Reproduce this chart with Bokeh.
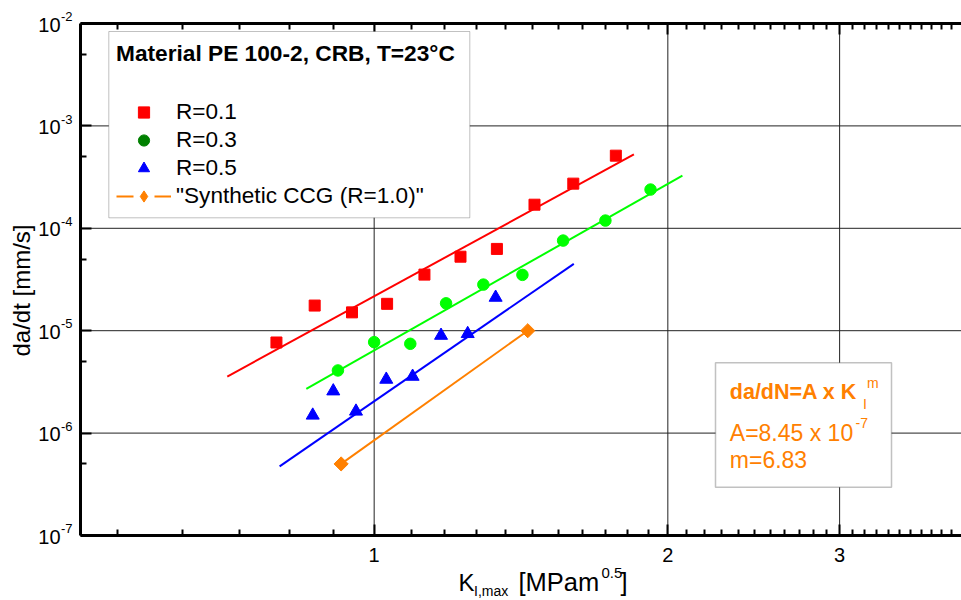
import math
from bokeh.plotting import figure
from bokeh.models import (FixedTicker, LogAxis, Label, Legend, LegendItem, BoxAnnotation,
                          CustomJSTickFormatter, PrintfTickFormatter)
from bokeh.embed import file_html
from bokeh.resources import INLINE

# ---------------- data ----------------
k_r01 = [0.794, 0.869, 0.949, 1.031, 1.126, 1.226, 1.336, 1.460, 1.600, 1.769]
v_r01 = [7.67e-6, 1.76e-5, 1.51e-5, 1.83e-5, 3.53e-5, 5.28e-5, 6.29e-5, 1.70e-4, 2.73e-4, 5.12e-4]
k_r03 = [0.918, 1.000, 1.089, 1.185, 1.294, 1.419, 1.562, 1.726, 1.920]
v_r03 = [4.09e-6, 7.73e-6, 7.45e-6, 1.85e-5, 2.82e-5, 3.51e-5, 7.59e-5, 1.19e-4, 2.39e-4]
k_r05 = [0.865, 0.908, 0.958, 1.029, 1.095, 1.171, 1.247, 1.332]
v_r05 = [1.49e-6, 2.57e-6, 1.63e-6, 3.34e-6, 3.57e-6, 8.97e-6, 9.33e-6, 2.11e-5]

fit_k_r01 = [0.707, 1.846]
fit_v_r01 = [3.57e-6, 5.27e-4]
fit_k_r03 = [0.852, 2.070]
fit_v_r03 = [2.71e-6, 3.27e-4]
fit_k_r05 = [0.800, 1.602]
fit_v_r05 = [4.73e-7, 4.50e-5]

k_syn = [0.925, 1.437]
v_syn = [5.0e-7, 1.0e-5]

x_lim = (0.5, 4.0)
y_lim = (1e-7, 1e-2)
x_major = [1, 2, 3, 4]
y_major = [1e-7, 1e-6, 1e-5, 1e-4, 1e-3, 1e-2]
y_exponents = ["-7", "-6", "-5", "-4", "-3", "-2"]
y_minor = [5e-7, 5e-6, 5e-5, 5e-4, 5e-3]
x_minor = [k / 11 for k in range(6, 11)] + [m + k / 11 for m in (1, 2, 3) for k in range(1, 11)]

legend_labels = ["R=0.1", "R=0.3", "R=0.5", '"Synthetic CCG (R=1.0)"']
legend_title = "Material PE 100-2, CRB, T=23°C"

FONT = "Liberation Sans"
RED, LIME, GREEN, BLUE, ORANGE = "#ff0000", "#00ff00", "#008000", "#0000ff", "#ff8000"

# ---------------- layout helpers (canvas px -> data) ----------------
W, H = 961, 600
AL, AR, AT, AB = 80, 961, 23, 535          # axes box in canvas px
XDEC = (AR - AL) / math.log10(x_lim[1] / x_lim[0])
YDEC = (AB - AT) / math.log10(y_lim[1] / y_lim[0])
BASE_FIX = 0.35                             # baseline correction (fraction of font size)


def kx(px):
    return x_lim[0] * 10 ** ((px - AL) / XDEC)


def vy(py):
    return y_lim[0] * 10 ** ((AB - py) / YDEC)


p = figure(width=W, height=H, x_axis_type="log", y_axis_type="log",
           x_range=(kx(0), kx(W)), y_range=(vy(H), vy(0)),
           output_backend="svg", toolbar_location=None,
           min_border=0, min_border_left=0, min_border_right=0,
           min_border_top=0, min_border_bottom=0)
p.outline_line_color = None
p.background_fill_color = "white"
p.border_fill_color = "white"
p.xgrid.visible = False
p.ygrid.visible = False

# axes placed at the edges of the axes box
xt = FixedTicker(ticks=x_major, minor_ticks=x_minor)
yt = FixedTicker(ticks=y_major, minor_ticks=y_minor)
for ax in p.xaxis:
    ax.ticker = xt
    ax.formatter = PrintfTickFormatter(format="%d")
    ax.major_label_text_font = FONT
    ax.major_label_text_font_size = "20px"
    ax.major_label_text_color = "black"
    ax.major_label_standoff = 12
    ax.fixed_location = y_lim[0]
    ax.bounds = x_lim
for ax in p.yaxis:
    ax.ticker = yt
    ax.formatter = CustomJSTickFormatter(code="return ''")
    ax.fixed_location = x_lim[0]
    ax.bounds = y_lim

top = LogAxis(ticker=FixedTicker(ticks=x_major, minor_ticks=x_minor),
              formatter=CustomJSTickFormatter(code="return ''"),
              fixed_location=y_lim[1], bounds=x_lim)
p.add_layout(top, "above")

for ax in list(p.xaxis) + list(p.yaxis) + [top]:
    ax.axis_line_width = 3
    ax.axis_line_color = "black"
    ax.major_tick_in = 11
    ax.major_tick_out = 0
    ax.minor_tick_in = 6
    ax.minor_tick_out = 0
    ax.major_tick_line_width = 2
    ax.minor_tick_line_width = 2

# grid lines, limited to the axes box
p.segment(x0=x_major, y0=[y_lim[0]] * len(x_major), x1=x_major, y1=[y_lim[1]] * len(x_major),
          line_color="#222222", line_width=1)
p.segment(x0=[x_lim[0]] * len(y_major), y0=y_major, x1=[x_lim[1]] * len(y_major), y1=y_major,
          line_color="#222222", line_width=1)

# data glyphs
p.line(fit_k_r01, fit_v_r01, line_color=RED, line_width=2)
p.scatter(k_r01, v_r01, marker="square", size=11, color=RED)
p.line(fit_k_r03, fit_v_r03, line_color=LIME, line_width=2)
p.scatter(k_r03, v_r03, marker="circle", size=11.5, color=LIME)
p.line(fit_k_r05, fit_v_r05, line_color=BLUE, line_width=2)
p.scatter(k_r05, v_r05, marker="triangle", size=13, color=BLUE)
p.line(k_syn, v_syn, line_color=ORANGE, line_width=2)
p.scatter(k_syn, v_syn, marker="square", angle=math.pi / 4, size=10, color=ORANGE)

# legend-only renderers (hidden in the plot)
lg1 = p.scatter(k_r01, v_r01, marker="square", color=RED, visible=False)
lg2 = p.scatter(k_r03, v_r03, marker="circle", color=GREEN, visible=False)
lg3 = p.scatter(k_r05, v_r05, marker="triangle", color=BLUE, visible=False)
lg4a = p.line(k_syn, v_syn, line_color=ORANGE, line_width=2, line_dash="17 21", visible=False)
lg4b = p.scatter(k_syn, v_syn, marker="diamond", color=ORANGE, visible=False)

# legend frame
p.add_layout(BoxAnnotation(left=kx(108.3), right=kx(469.3), top=vy(31), bottom=vy(217.3),
                           fill_color="white", fill_alpha=1.0,
                           line_color="#333333", line_width=1))

legend = Legend(
    items=[LegendItem(label=legend_labels[0], renderers=[lg1]),
           LegendItem(label=legend_labels[1], renderers=[lg2]),
           LegendItem(label=legend_labels[2], renderers=[lg3]),
           LegendItem(label=legend_labels[3], renderers=[lg4a, lg4b])],
    location=(116, 390), title=legend_title,
    title_text_font=FONT, title_text_font_size="22.7px", title_text_font_style="bold",
    title_text_color="black", title_standoff=31,
    label_text_font=FONT, label_text_font_size="22.6px", label_text_color="black",
    label_height=28, glyph_height=28, glyph_width=55, label_standoff=5,
    spacing=0, padding=9, margin=0,
    border_line_color=None, background_fill_alpha=0.0,
)
p.add_layout(legend)


def lab(px, py, text, size, color="black", style="normal", align="left", angle=0.0):
    """Place a text with its baseline at canvas pixel (px, py)."""
    fs = float(size.replace("px", ""))
    if angle:
        px = px - BASE_FIX * fs
    else:
        py = py - BASE_FIX * fs
    p.add_layout(Label(x=kx(px), y=vy(py), text=text, text_align=align, angle=angle,
                       text_baseline="alphabetic", text_font=FONT,
                       text_font_size=size, text_color=color, text_font_style=style))


# y tick labels 10^n
for v, e in zip(y_major, y_exponents):
    ty = AB - (math.log10(v / y_lim[0])) * YDEC
    lab(60, ty + 8, "10", "20px", align="right")
    lab(60.5, ty - 2.3, e, "13px")

# axis titles
lab(29, 290, "da/dt [mm/s]", "24px", align="center", angle=math.pi / 2)

lab(458, 590, "K", "24px")
lab(473.5, 595, "I,max", "14px")
lab(518, 590, "[MPam", "25.5px")
lab(601, 578, "0.5", "15px")
lab(620, 590, "]", "25.5px")

# formula box
p.add_layout(BoxAnnotation(left=kx(715), right=kx(891), top=vy(362.3), bottom=vy(486.7),
                           fill_color="white", fill_alpha=1.0,
                           line_color="#333333", line_width=1.5))
lab(729.3, 399.3, "da/dN=A x K", "21.5px", ORANGE, "bold")
lab(862.5, 408, "I", "14px", ORANGE)
lab(866.5, 387, "m", "14px", ORANGE)
lab(729.3, 441, "A=8.45 x 10", "23px", ORANGE)
lab(855, 427.5, "-7", "14px", ORANGE)
lab(729.3, 467.7, "m=6.83", "23px", ORANGE)

open("out.html", "w").write(file_html(p, INLINE))
